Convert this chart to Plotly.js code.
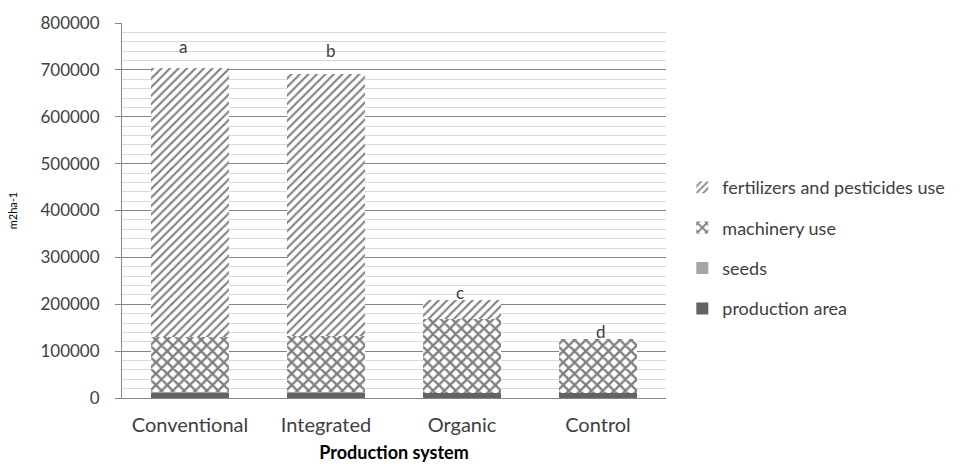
<!DOCTYPE html>
<html>
<head>
<meta charset="utf-8">
<script src="https://cdn.plot.ly/plotly-3.0.1.min.js"></script>
<style>html,body{margin:0;padding:0;background:#fff;}#chart{width:966px;height:468px;}</style>
</head>
<body>
<div id="chart"></div>
<script>
const categories = ["Conventional", "Integrated", "Organic", "Control"];
const productionArea = [11000, 11000, 10000, 10000];
const seeds = [1000, 1000, 1000, 1000];
const machineryUse = [118000, 121000, 157000, 114000];
const fertilizersPesticides = [573000, 558000, 42000, 0];
const letters = ["a", "b", "c", "d"];
const letterShift = [-7, 5, -2, 3];
const letterLift = [9, 11, -5, -5];

const font = "Lato, 'Open Sans', sans-serif";
const totals = categories.map((_, i) => productionArea[i] + seeds[i] + machineryUse[i] + fertilizersPesticides[i]);

const traces = [
  {name: "production area", y: productionArea, legendrank: 4, marker: {color: "#636363"}},
  {name: "seeds", y: seeds, legendrank: 3, marker: {color: "#a6a6a6"}},
  {name: "machinery use", y: machineryUse, legendrank: 2,
   marker: {color: "#ffffff", pattern: {shape: "x", size: 8, solidity: 0.5, fgcolor: "#000000", bgcolor: "#ffffff", fillmode: "overlay"}}},
  {name: "fertilizers and pesticides use", y: fertilizersPesticides, legendrank: 1,
   marker: {color: "#ffffff", pattern: {shape: "/", size: 6, solidity: 0.35, fgcolor: "#000000", bgcolor: "#ffffff", fillmode: "overlay"}}}
].map((t, k) => Object.assign({type: "bar", x: categories, legendgroup: "g" + k, hoverinfo: "skip"}, t));

const annotations = categories.map((c, i) => ({
  x: c, y: totals[i], text: letters[i], showarrow: false, xshift: letterShift[i], yshift: letterLift[i],
  font: {family: font, size: 17, color: "#404040"}, yanchor: "bottom"
}));

const layout = {
  width: 966, height: 468,
  margin: {l: 122, r: 300, t: 23, b: 70, pad: 0},
  paper_bgcolor: "#fff", plot_bgcolor: "#fff",
  barmode: "stack", bargap: 0.43,
  font: {family: font, color: "#404040"},
  showlegend: true,
  legend: {x: 1.03, y: 0.40, xanchor: "left", yanchor: "middle", traceorder: "grouped", tracegroupgap: 14,
           font: {family: font, size: 18, color: "#404040"}, itemwidth: 30, bgcolor: "rgba(0,0,0,0)"},
  xaxis: {
    type: "category", showgrid: false, showline: true, linecolor: "#868686", linewidth: 1,
    ticks: "", ticklabelstandoff: 9, tickfont: {family: font, size: 20, color: "#404040"},
    title: {text: "<b>Production system</b>", font: {family: font, size: 18, color: "#000"}, standoff: 11}
  },
  yaxis: {
    range: [0, 800000], dtick: 100000, tick0: 0, tickformat: "d",
    showline: true, linecolor: "#868686", linewidth: 1,
    ticks: "outside", ticklen: 6, tickcolor: "#868686", ticklabelstandoff: 12,
    showgrid: true, gridcolor: "#868686", gridwidth: 1,
    minor: {dtick: 20000, showgrid: true, gridcolor: "#d9d9d9", gridwidth: 1, ticks: ""},
    zeroline: false,
    tickfont: {family: font, size: 17, color: "#404040"},
    title: {text: "m2ha-1", font: {family: font, size: 11, color: "#000"}, standoff: 20}
  },
  annotations: annotations
};

Plotly.newPlot("chart", traces, layout, {staticPlot: true, displayModeBar: false});
</script>
</body>
</html>
